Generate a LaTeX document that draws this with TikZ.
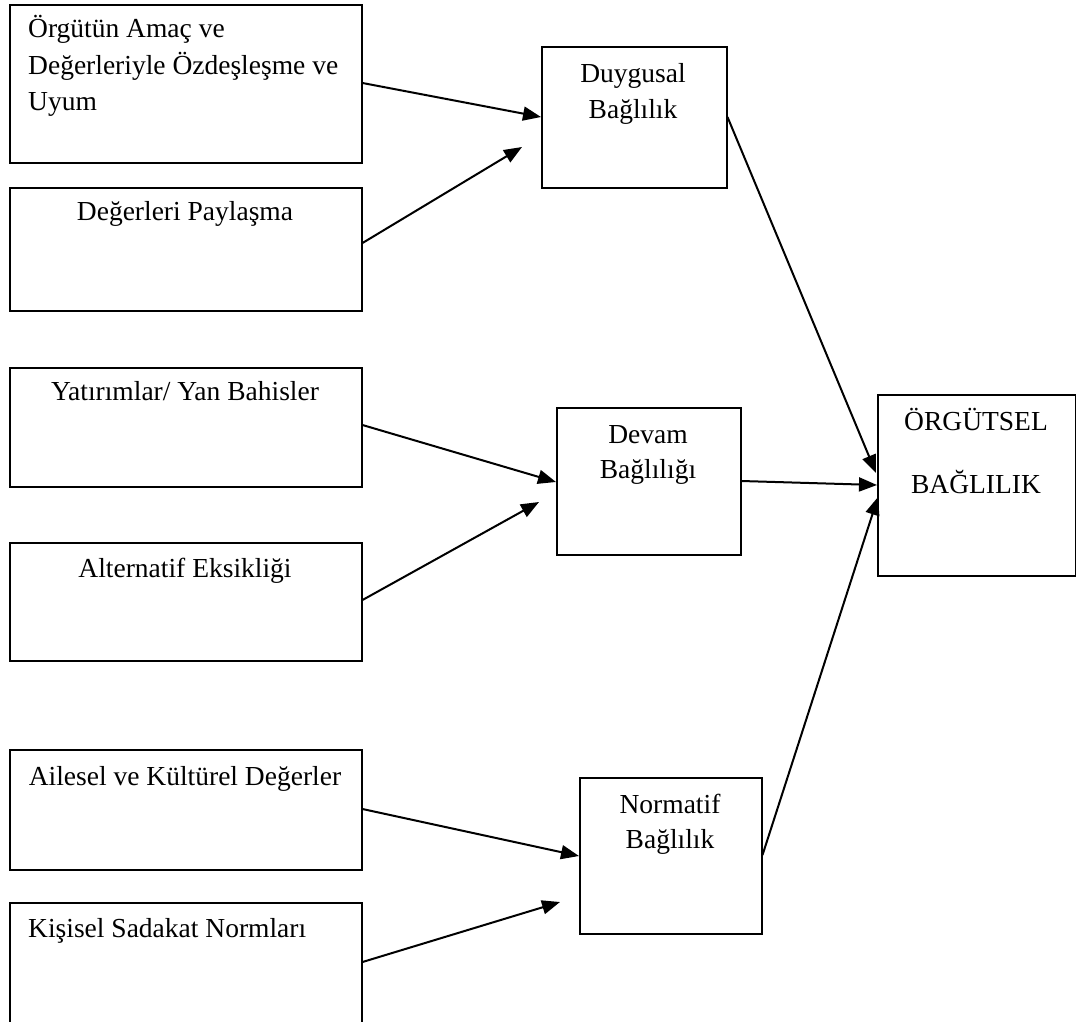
\documentclass[tikz,border=0pt]{standalone}
\usepackage{fontspec}
\setmainfont{Liberation Serif}
\usetikzlibrary{arrows.meta}
\begin{document}
\begin{tikzpicture}[x=1pt,y=-1pt,
  box/.style={draw=black,line width=1.5pt,rectangle,inner sep=0pt,anchor=north west},
  txt/.style={inner sep=0pt,font=\fontsize{27.5}{36}\selectfont},
  arr/.style={line width=2pt,-{Triangle[length=18pt,width=14pt]}}]
\useasboundingbox (0,0) rectangle (1076,1021);
\clip (0,0) rectangle (1076,1021);
% boxes
\node[box,minimum width=352pt,minimum height=158pt] (b1) at (9,4) {};
\node[box,minimum width=352pt,minimum height=123pt] (b2) at (9,187) {};
\node[box,minimum width=352pt,minimum height=119pt] (b3) at (9,367) {};
\node[box,minimum width=352pt,minimum height=118pt] (b4) at (9,542) {};
\node[box,minimum width=352pt,minimum height=120pt] (b5) at (9,749) {};
\node[box,minimum width=352pt,minimum height=140pt] (b6) at (9,902) {};
\node[box,minimum width=185pt,minimum height=141pt] (d) at (541,46) {};
\node[box,minimum width=184pt,minimum height=147pt] (v) at (556,407) {};
\node[box,minimum width=182pt,minimum height=156pt] (n) at (579,777) {};
\node[box,minimum width=198pt,minimum height=181pt] (o) at (877,394) {};
% texts
\node[txt,anchor=base west] (t1a) at (28,37) {Örgütün Amaç ve};
\node[txt,anchor=base west] (t1b) at (28,74) {Değerleriyle Özdeşleşme ve};
\node[txt,anchor=base west] (t1c) at (28,110) {Uyum};
\node[txt,anchor=base] (t2) at (185,220) {Değerleri Paylaşma};
\node[txt,anchor=base] (t3) at (185,400) {Yatırımlar/ Yan Bahisler};
\node[txt,anchor=base] (t4) at (185,577) {Alternatif Eksikliği};
\node[txt,anchor=base] (t5) at (185,785) {Ailesel ve Kültürel Değerler};
\node[txt,anchor=base west] (t6) at (28,937) {Kişisel Sadakat Normları};
\node[txt,anchor=base] (td1) at (633,82) {Duygusal};
\node[txt,anchor=base] (td2) at (633,118) {Bağlılık};
\node[txt,anchor=base] (tv1) at (648,443) {Devam};
\node[txt,anchor=base] (tv2) at (648,478) {Bağlılığı};
\node[txt,anchor=base] (tn1) at (670,813) {Normatif};
\node[txt,anchor=base] (tn2) at (670,848) {Bağlılık};
\node[txt,anchor=base] (to1) at (976,430) {ÖRGÜTSEL};
\node[txt,anchor=base] (to2) at (976,493) {BAĞLILIK};
% connectors
\draw[arr] ([yshift=-79pt]b1.north east) -- ([yshift=-71pt]d.north west);
\draw[arr] ([yshift=-56pt]b2.north east) -- ([xshift=-19pt,yshift=-101pt]d.north west);
\draw[arr] ([yshift=-58pt]b3.north east) -- ([yshift=-75pt]v.north west);
\draw[arr] ([yshift=-58pt]b4.north east) -- ([xshift=-17pt,yshift=-95pt]v.north west);
\draw[arr] ([yshift=-60pt]b5.north east) -- ([yshift=-79pt]n.north west);
\draw[arr] ([yshift=-60pt]b6.north east) -- ([xshift=-19pt,yshift=-125pt]n.north west);
\draw[arr] ([yshift=-71pt]d.north east) -- ([xshift=-1pt,yshift=-79pt]o.north west);
\draw[arr] ([yshift=-74pt]v.north east) -- ([yshift=-91pt]o.north west);
\draw[arr] ([yshift=-78pt]n.north east) -- ([xshift=1pt,yshift=-103pt]o.north west);
\end{tikzpicture}
\end{document}
